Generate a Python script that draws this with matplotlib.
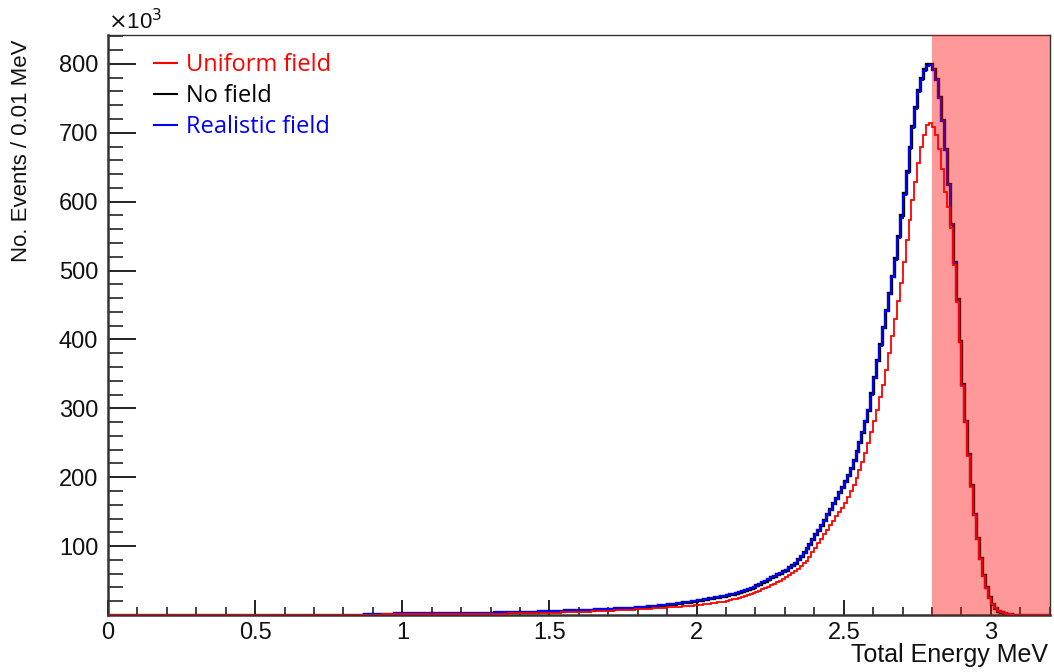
import numpy as np
import matplotlib
matplotlib.use("Agg")
import matplotlib.pyplot as plt
from matplotlib.lines import Line2D
from matplotlib.ticker import MultipleLocator, FuncFormatter

plt.rcParams['font.family'] = ['Liberation Sans', 'DejaVu Sans']

# histogram contents in units of 10^3 events per 0.01 MeV bin
bin_width = 0.01
e_first = 0.80   # low edge of first listed bin
e_max = 3.20

# No field (black)
no_field = [
    0, 0, 0, 0, 0, 0, 0, 1.8, 1.8, 1.9,
    1.9, 2.0, 2.0, 2.0, 2.1, 2.1, 2.1, 2.2, 2.2, 2.2,
    2.3, 2.3, 2.3, 2.4, 2.4, 2.4, 2.5, 2.5, 2.5, 2.6,
    2.6, 2.6, 2.7, 2.7, 2.7, 2.8, 2.8, 2.8, 2.9, 2.9,
    2.9, 3.0, 3.0, 3.1, 3.1, 3.4, 3.4, 3.5, 3.5, 3.6,
    3.6, 3.7, 3.7, 3.8, 3.8, 3.9, 4.0, 4.1, 4.2, 4.3,
    4.5, 4.6, 4.7, 4.8, 4.9, 5.0, 5.2, 5.3, 5.5, 5.7,
    5.9, 6.0, 6.2, 6.3, 6.4, 6.6, 6.7, 6.8, 7.0, 7.1,
    7.3, 7.4, 7.6, 7.8, 8.0, 8.2, 8.4, 8.6, 8.8, 9.0,
    9.2, 9.4, 9.6, 9.8, 10.0, 10.2, 10.4, 10.6, 10.9, 11.2,
    11.5, 11.8, 12.1, 12.4, 12.8, 13.2, 13.6, 14.0, 14.5, 15.0,
    15.5, 16.0, 16.5, 17.0, 17.6, 18.2, 18.8, 19.4, 20.0, 20.6,
    21.2, 21.9, 22.6, 23.3, 24.0, 24.8, 25.6, 26.4, 27.3, 28.2,
    29.1, 30.1, 31.1, 32.2, 33.4, 34.7, 36.1, 37.6, 39.2, 40.9,
    43.0, 45.0, 47.5, 50.0, 52.5, 55.0, 57.0, 59.0, 61.0, 63.5,
    66, 69, 72, 76, 81, 86, 91, 97, 103, 110,
    117, 124, 131, 138, 146, 154, 162, 170, 178, 186,
    194, 203, 213, 225, 238, 251, 266, 282, 298, 322,
    346, 370, 393, 418, 443, 468, 492, 518, 550, 580,
    612, 645, 680, 710, 738, 762, 780, 792, 800, 800,
    792, 778, 752, 718, 676, 625, 568, 512, 458, 398,
    335, 282, 233, 188, 147, 112, 83, 58, 40, 26,
    16, 10, 6.5, 4.2, 2.7, 1.8, 1.2, 0.7, 0.3, 0,
]

# Realistic field (blue)
realistic_field = [
    0, 0, 0, 0, 0, 0, 0, 1.8, 1.8, 1.9,
    1.9, 2.0, 2.0, 2.0, 2.1, 2.1, 2.1, 2.2, 2.2, 2.2,
    2.3, 2.3, 2.3, 2.4, 2.4, 2.4, 2.5, 2.5, 2.5, 2.6,
    2.6, 2.6, 2.7, 2.7, 2.7, 2.8, 2.8, 2.8, 2.9, 2.9,
    2.9, 3.0, 3.0, 3.1, 3.1, 3.4, 3.4, 3.5, 3.5, 3.6,
    3.6, 3.7, 3.7, 3.8, 3.8, 3.9, 4.0, 4.1, 4.2, 4.3,
    4.5, 4.6, 4.7, 4.8, 4.9, 5.0, 5.2, 5.3, 5.5, 5.7,
    5.9, 6.0, 6.2, 6.3, 6.4, 6.6, 6.7, 6.8, 7.0, 7.1,
    7.3, 7.4, 7.6, 7.8, 8.0, 8.2, 8.4, 8.6, 8.8, 9.0,
    9.2, 9.4, 9.6, 9.8, 10.0, 10.2, 10.4, 10.6, 10.9, 11.2,
    11.5, 11.8, 12.1, 12.4, 12.8, 13.2, 13.6, 14.0, 14.5, 15.0,
    15.4, 15.9, 16.4, 16.9, 17.5, 18.1, 18.7, 19.3, 19.9, 20.5,
    21.1, 21.8, 22.5, 23.2, 23.9, 24.7, 25.5, 26.3, 27.1, 28.0,
    28.9, 29.9, 30.9, 32.0, 33.2, 34.5, 35.9, 37.4, 39.0, 40.7,
    42.7, 44.7, 47.2, 49.7, 52.2, 54.7, 56.7, 58.7, 60.6, 63.1,
    65.5, 68.5, 71.5, 75.5, 80.5, 85.5, 90.5, 96.5, 102, 109,
    116, 123, 130, 137, 145, 153, 161, 169, 177, 185,
    193, 202, 212, 224, 237, 250, 265, 281, 297, 320,
    344, 368, 391, 416, 441, 466, 490, 516, 547, 577,
    609, 642, 677, 707, 735, 759, 777, 789, 797, 798,
    791, 777, 751, 717, 675, 624, 567, 511, 457, 397,
    334, 281, 232, 187, 146, 111, 82, 57, 39, 25,
    15.5, 9.8, 6.3, 4.1, 2.6, 1.7, 1.1, 0.6, 0.3, 0,
]

# Uniform field (red)
uniform_field = [
    0, 0, 0, 0, 0, 0, 0, 0, 0, 0,
    0, 0, 0, 1.0, 1.0, 1.0, 1.0, 1.0, 1.1, 1.1,
    1.1, 1.1, 1.1, 1.2, 1.2, 1.2, 1.2, 1.2, 1.3, 1.3,
    1.3, 1.3, 1.3, 1.4, 1.4, 1.4, 1.4, 1.5, 1.5, 1.5,
    1.5, 1.6, 1.6, 1.6, 1.7, 1.7, 1.7, 1.8, 1.8, 1.8,
    1.9, 1.9, 2.0, 2.0, 2.1, 2.1, 2.2, 2.2, 2.3, 2.3,
    2.4, 2.5, 2.5, 2.6, 2.7, 2.7, 2.8, 2.9, 3.0, 3.1,
    3.2, 3.3, 3.4, 3.5, 3.7, 3.8, 3.9, 4.1, 4.2, 4.4,
    4.5, 4.7, 4.8, 5.0, 5.2, 5.3, 5.5, 5.7, 5.9, 6.1,
    6.3, 6.5, 6.7, 6.9, 7.1, 7.3, 7.5, 7.7, 8.0, 8.2,
    8.4, 8.6, 8.8, 9.0, 9.3, 9.5, 9.8, 10.1, 10.4, 10.7,
    11.0, 11.3, 11.6, 11.9, 12.2, 12.5, 12.9, 13.3, 13.7, 14.1,
    14.5, 15.0, 15.5, 16.0, 16.5, 17.0, 17.6, 18.2, 18.8, 19.4,
    20.5, 21.5, 22.6, 23.8, 25.0, 26.3, 27.6, 29.0, 30.5, 32.0,
    33.6, 35.3, 37.1, 39.0, 41.0, 43.1, 45.3, 47.6, 50.0, 52.5,
    55, 58, 61, 64, 67, 71, 75, 79, 84, 92,
    98, 104, 110, 117, 124, 131, 137, 143, 149, 156,
    163, 171, 180, 189, 199, 210, 222, 235, 250, 265,
    281, 298, 316, 334, 356, 380, 405, 430, 456, 482,
    512, 544, 573, 602, 628, 656, 680, 697, 712, 714,
    708, 697, 676, 648, 614, 592, 562, 508, 455, 396,
    333, 280, 231, 186, 145, 110, 81, 57, 39, 25,
    15.5, 9.6, 6.2, 4.0, 2.6, 1.7, 1.1, 0.6, 0.3, 0,
]

band_lo, band_hi = 2.8, 3.2


def full_hist(vals):
    # empty bins before and after the listed range
    n_before = int(round(e_first / bin_width))
    n_after = int(round(e_max / bin_width)) - n_before - len(vals)
    return np.concatenate([np.zeros(n_before), np.array(vals, float), np.zeros(n_after)])


edges = np.linspace(0, e_max, int(round(e_max / bin_width)) + 1)

fig = plt.figure(figsize=(10.54, 6.72), dpi=100)
ax = fig.add_axes([0.1025, 0.0848, 0.8935, 0.8632])

ax.stairs(full_hist(no_field), edges, color='black', lw=2.4, zorder=2)
ax.stairs(full_hist(realistic_field), edges, color='blue', lw=1.4, zorder=3)
ax.stairs(full_hist(uniform_field), edges, color='red', lw=1.3, zorder=4)

ax.axvspan(band_lo, band_hi, color='red', alpha=0.4, lw=0, zorder=5)

ax.set_xlim(0, e_max)
ax.set_ylim(0, 842)

ax.xaxis.set_major_locator(MultipleLocator(0.5))
ax.xaxis.set_minor_locator(MultipleLocator(0.1))
ax.yaxis.set_major_locator(MultipleLocator(100))
ax.yaxis.set_minor_locator(MultipleLocator(20))
ax.xaxis.set_major_formatter(FuncFormatter(lambda v, p: '%g' % v))
ax.yaxis.set_major_formatter(FuncFormatter(lambda v, p: '' if v == 0 else '%d' % v))

ax.tick_params(axis='both', which='both', direction='in', top=False, right=False,
               labelsize=17, colors='#111111')
ax.tick_params(axis='x', which='major', length=11, width=1.3, pad=5)
ax.tick_params(axis='x', which='minor', length=6, width=1.1)
ax.tick_params(axis='y', which='major', length=20, width=1.3, pad=7)
ax.tick_params(axis='y', which='minor', length=11, width=1.1)

for s in ['left', 'bottom']:
    ax.spines[s].set_linewidth(1.8)
    ax.spines[s].set_color('#333333')
for s in ['top', 'right']:
    ax.spines[s].set_linewidth(1.0)
    ax.spines[s].set_color('#333333')

fig.text(0.1025, 1 - 22 / 672, r'$\times$10$^{3}$', fontsize=16, ha='left', va='center',
         color='#111111')
fig.text(22 / 1054, 1 - 40 / 672, 'No. Events / 0.01 MeV', rotation=90, fontsize=16,
         ha='center', va='top', color='#111111')
fig.text(1048 / 1054, 1 - 655 / 672, 'Total Energy MeV', fontsize=18, ha='right',
         va='center', color='#111111')

handles = [Line2D([], [], color='red', lw=1.5),
           Line2D([], [], color='black', lw=1.5),
           Line2D([], [], color='blue', lw=1.5)]
labels = ['Uniform field', 'No field', 'Realistic field']
leg = ax.legend(handles, labels, loc='upper left', bbox_to_anchor=(0.039, 0.985),
                frameon=False, prop={'family': 'Open Sans', 'size': 17},
                handlelength=0.95, handletextpad=0.4, labelspacing=0.3, borderaxespad=0)
for t, c in zip(leg.get_texts(), ['red', 'black', 'blue']):
    t.set_color(c)

fig.savefig('out.png', dpi=100)
